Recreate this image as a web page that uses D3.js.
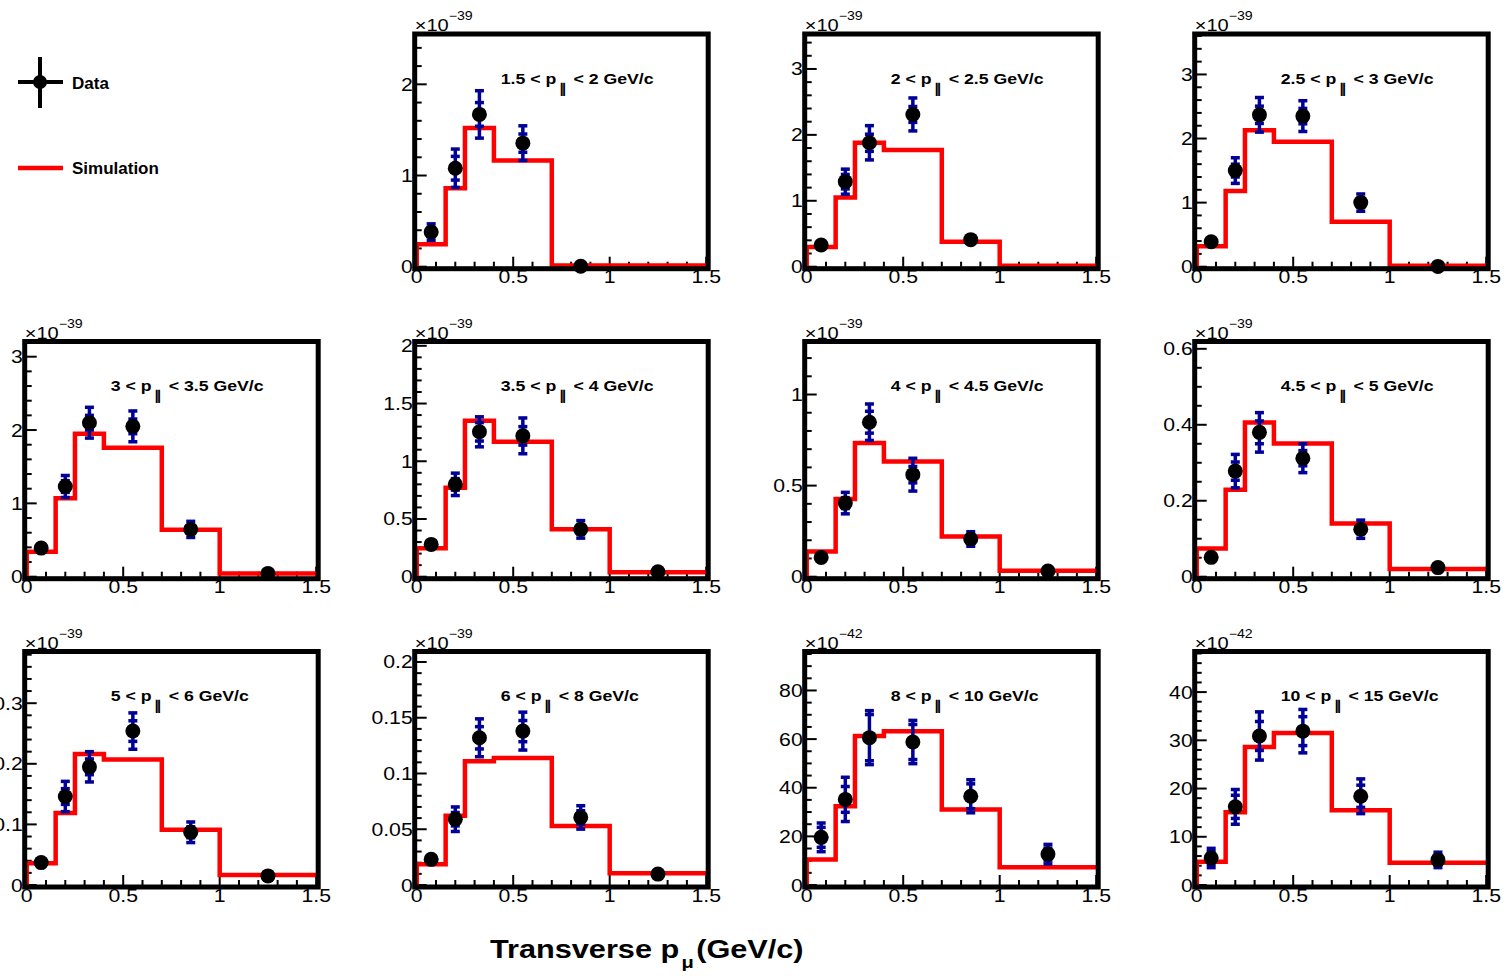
<!DOCTYPE html>
<html>
<head>
<meta charset="utf-8">
<script src="https://cdn.jsdelivr.net/npm/d3@7"></script>
<style>
  body { margin: 0; background: #fff; }
  svg { display: block; }
  text { font-family: "Liberation Sans", Arial, Helvetica, sans-serif; fill: #000; }
</style>
</head>
<body>
<svg id="chart" width="1512" height="976"></svg>
<script>
// bins in transverse muon momentum (GeV/c)
var binEdges = [0, 0.15, 0.25, 0.4, 0.7, 1.0, 1.5];
var binCenters = [0.075, 0.2, 0.325, 0.55, 0.85, 1.25];

// longitudinal momentum slices, one per panel
var pLow  = ["1.5", "2", "2.5", "3", "3.5", "4", "4.5", "5", "6", "8", "10"];
var pHigh = ["2", "2.5", "3", "3.5", "4", "4.5", "5", "6", "8", "10", "15"];
var exponents = ["39", "39", "39", "39", "39", "39", "39", "39", "39", "42", "42"];

// y axis range and tick steps per panel
var yMax   = [2.53, 3.5, 3.6, 3.18, 2.02, 1.28, 0.614, 0.382, 0.2076, 95.2, 48];
var yMajor = [1, 1, 1, 1, 0.5, 0.5, 0.2, 0.1, 0.05, 20, 10];
var yMinor = [0.2, 0.2, 0.2, 0.2, 0.1, 0.1, 0.05, 0.02, 0.01, 5, 2];

// simulation histogram (per bin)
var simValues = [
  [0.245, 0.86, 1.52, 1.165, 0.012, 0.012],
  [0.30, 1.05, 1.88, 1.77, 0.38, 0.015],
  [0.32, 1.18, 2.13, 1.95, 0.70, 0.015],
  [0.34, 1.07, 1.95, 1.76, 0.64, 0.045],
  [0.246, 0.77, 1.35, 1.17, 0.41, 0.038],
  [0.138, 0.426, 0.734, 0.633, 0.22, 0.033],
  [0.074, 0.229, 0.406, 0.351, 0.14, 0.02],
  [0.036, 0.119, 0.216, 0.207, 0.091, 0.0165],
  [0.0185, 0.062, 0.111, 0.114, 0.053, 0.0105],
  [10.5, 32.4, 61.3, 63.2, 31.0, 7.25],
  [4.8, 15.1, 28.6, 31.5, 15.5, 4.6]
];

// data points (null = no point)
var dataValues = [
  [0.38, 1.08, 1.67, 1.355, 0.005, null],
  [0.33, 1.29, 1.88, 2.31, 0.41, null],
  [0.39, 1.50, 2.37, 2.35, 1.0, 0.005],
  [0.39, 1.23, 2.10, 2.05, 0.645, 0.045],
  [0.28, 0.80, 1.255, 1.22, 0.41, 0.043],
  [0.106, 0.404, 0.848, 0.56, 0.207, 0.031],
  [0.051, 0.278, 0.38, 0.312, 0.125, 0.024],
  [0.037, 0.146, 0.195, 0.254, 0.087, 0.015],
  [0.023, 0.059, 0.132, 0.138, 0.0606, 0.0098],
  [19.6, 35.2, 60.6, 58.8, 36.5, 12.7],
  [5.6, 16.2, 30.9, 31.9, 18.4, 5.2]
];

// total (outer) errors
var dataTotalErr = [
  [0.09, 0.21, 0.26, 0.19, 0, 0],
  [0.03, 0.19, 0.26, 0.25, 0.03, 0],
  [0.03, 0.20, 0.27, 0.24, 0.135, 0],
  [0.03, 0.15, 0.21, 0.21, 0.11, 0],
  [0.02, 0.097, 0.13, 0.155, 0.076, 0],
  [0.01, 0.059, 0.10, 0.09, 0.04, 0.005],
  [0.005, 0.044, 0.052, 0.038, 0.024, 0.003],
  [0.003, 0.025, 0.025, 0.030, 0.017, 0.002],
  [0.002, 0.011, 0.017, 0.017, 0.0105, 0.001],
  [5.9, 9.1, 11.1, 8.9, 6.8, 4.0],
  [2.0, 3.6, 5.0, 4.5, 3.6, 1.6]
];

// statistical (inner) errors
var dataStatErr = [
  [0.05, 0.13, 0.13, 0.10, 0, 0],
  [0.02, 0.11, 0.13, 0.12, 0.02, 0],
  [0.02, 0.10, 0.135, 0.12, 0.07, 0],
  [0.02, 0.08, 0.10, 0.10, 0.05, 0],
  [0.01, 0.05, 0.08, 0.08, 0.04, 0],
  [0.005, 0.03, 0.06, 0.045, 0.02, 0.003],
  [0.003, 0.024, 0.03, 0.02, 0.012, 0.002],
  [0.002, 0.013, 0.013, 0.017, 0.009, 0.001],
  [0.001, 0.006, 0.01, 0.0095, 0.006, 0.0005],
  [4.1, 5.3, 9.5, 7.2, 5.1, 2.5],
  [1.3, 2.4, 3.0, 3.0, 2.3, 1.0]
];

var xTicksMajor = [0, 0.5, 1, 1.5];

var svg = d3.select("#chart");
svg.append("rect").attr("width", 1512).attr("height", 976).attr("fill", "#fff");

// ROOT text in the picture is a bit wider than normal Helvetica
var SX = 1.18;
function stretchText(g, x, y, size, weight, anchor) {
  return g.append("text")
    .attr("transform", "translate(" + x + "," + y + ") scale(" + SX + ",1)")
    .attr("font-size", size)
    .attr("font-weight", weight)
    .attr("text-anchor", anchor);
}

var colLeft = [26.7, 416.7, 806.7, 1196.7];
var rowTop = [36, 343.5, 653.5];
var rowBottom = [266.7, 576.7, 885];
var plotW = 289.5;
var errColor = "#000099";

function steps(max, step) {
  var n = Math.floor(max / step + 1e-6);
  return d3.range(0, n + 1).map(function(k) { return +(k * step).toFixed(6); });
}

simValues.forEach(function(sim, i) {
  var slot = i + 1;
  var row = Math.floor(slot / 4), col = slot % 4;
  var L = colLeft[col], T = rowTop[row], B = rowBottom[row], R = L + plotW;

  var x = d3.scaleLinear().domain([0, 1.5]).range([L, R]);
  var y = d3.scaleLinear().domain([0, yMax[i]]).range([B, T]);
  var g = svg.append("g").attr("class", "panel");

  // ticks on the y axis
  var majors = steps(yMax[i], yMajor[i]);
  var minors = steps(yMax[i], yMinor[i]).filter(function(v) {
    return Math.abs(v / yMajor[i] - Math.round(v / yMajor[i])) > 1e-6;
  });
  g.selectAll(".ymin").data(minors).enter().append("line")
    .attr("x1", L).attr("x2", L + 5)
    .attr("y1", function(d) { return y(d); }).attr("y2", function(d) { return y(d); })
    .attr("stroke", "#000").attr("stroke-width", 2);
  g.selectAll(".ymaj").data(majors).enter().append("line")
    .attr("x1", L).attr("x2", L + 10)
    .attr("y1", function(d) { return y(d); }).attr("y2", function(d) { return y(d); })
    .attr("stroke", "#000").attr("stroke-width", 2);
  majors.forEach(function(v) {
    stretchText(g, L - 4, y(v) + 6.5, 18, "normal", "end").text(String(v));
  });

  // ticks on the x axis
  var xMinors = d3.range(1, 15).map(function(k) { return k / 10; })
    .filter(function(v) { return Math.abs(v * 2 - Math.round(v * 2)) > 1e-6; });
  g.selectAll(".xmin").data(xMinors).enter().append("line")
    .attr("x1", function(d) { return x(d); }).attr("x2", function(d) { return x(d); })
    .attr("y1", B).attr("y2", B - 5)
    .attr("stroke", "#000").attr("stroke-width", 2);
  g.selectAll(".xmaj").data(xTicksMajor).enter().append("line")
    .attr("x1", function(d) { return x(d); }).attr("x2", function(d) { return x(d); })
    .attr("y1", B).attr("y2", B - 10)
    .attr("stroke", "#000").attr("stroke-width", 2);
  xTicksMajor.forEach(function(v) {
    stretchText(g, x(v), B + 16.5, 18, "normal", "middle").text(String(v));
  });

  // simulation histogram
  var pts = [[0, 0]].concat(sim.map(function(s, k) { return [binEdges[k], s]; }));
  pts.push([1.5, sim[sim.length - 1]]);
  g.append("path")
    .attr("d", d3.line().x(function(d) { return x(d[0]); }).y(function(d) { return y(d[1]); })
      .curve(d3.curveStepAfter)(pts))
    .attr("fill", "none").attr("stroke", "#ff0000").attr("stroke-width", 4.5);

  // frame
  g.append("rect")
    .attr("x", L - 2).attr("y", T - 2)
    .attr("width", plotW + 4).attr("height", B - T + 4)
    .attr("fill", "none").attr("stroke", "#000").attr("stroke-width", 5);

  // data with two-level error bars
  dataValues[i].forEach(function(v, k) {
    if (v === null) return;
    var cx = x(binCenters[k]);
    var tot = dataTotalErr[i][k], st = dataStatErr[i][k];
    if (tot > 0) {
      g.append("line").attr("x1", cx).attr("x2", cx)
        .attr("y1", y(v - tot)).attr("y2", y(v + tot))
        .attr("stroke", errColor).attr("stroke-width", 3.5);
      [v - tot, v + tot, v - st, v + st].forEach(function(e) {
        g.append("rect").attr("x", cx - 4.5).attr("y", y(e) - 1.75)
          .attr("width", 9).attr("height", 3.5).attr("fill", errColor);
      });
    }
    g.append("circle").attr("cx", cx).attr("cy", y(v)).attr("r", 7.5).attr("fill", "#000");
  });

  // exponent label
  var ex = stretchText(g, L - 2, T - 5, 17, "normal", "start");
  ex.append("tspan").text("\u00d710");
  ex.append("tspan").attr("font-size", 12).attr("dy", -11).text("\u2212" + exponents[i]);

  // slice label
  var t = stretchText(g, L + 84, T + 47.5, 15, "bold", "start");
  t.append("tspan").text(pLow[i] + " < p");
  t.append("tspan").attr("font-size", 13).attr("dx", 2).attr("dy", 9).text("\u2225");
  t.append("tspan").attr("dx", 2).attr("dy", -9).text(" < " + pHigh[i] + " GeV/c");
});

// legend
var leg = svg.append("g").attr("class", "legend");
leg.append("line").attr("x1", 18).attr("x2", 63).attr("y1", 82).attr("y2", 82)
  .attr("stroke", "#000").attr("stroke-width", 4);
leg.append("line").attr("x1", 40).attr("x2", 40).attr("y1", 57).attr("y2", 108)
  .attr("stroke", "#000").attr("stroke-width", 4);
leg.append("circle").attr("cx", 40).attr("cy", 82).attr("r", 7).attr("fill", "#000");
leg.append("text").attr("x", 72).attr("y", 89).attr("font-size", 17).attr("font-weight", "bold").text("Data");
leg.append("line").attr("x1", 18).attr("x2", 63).attr("y1", 168).attr("y2", 168)
  .attr("stroke", "#ff0000").attr("stroke-width", 4.5);
leg.append("text").attr("x", 72).attr("y", 174).attr("font-size", 17).attr("font-weight", "bold").text("Simulation");

// common x axis title
var xt = stretchText(svg, 490, 958, 26, "bold", "start");
xt.append("tspan").text("Transverse p");
xt.append("tspan").attr("font-size", 17).attr("dx", 2).attr("dy", 10).text("\u03bc");
xt.append("tspan").attr("dx", 2).attr("dy", -10).text("(GeV/c)");
</script>
</body>
</html>
